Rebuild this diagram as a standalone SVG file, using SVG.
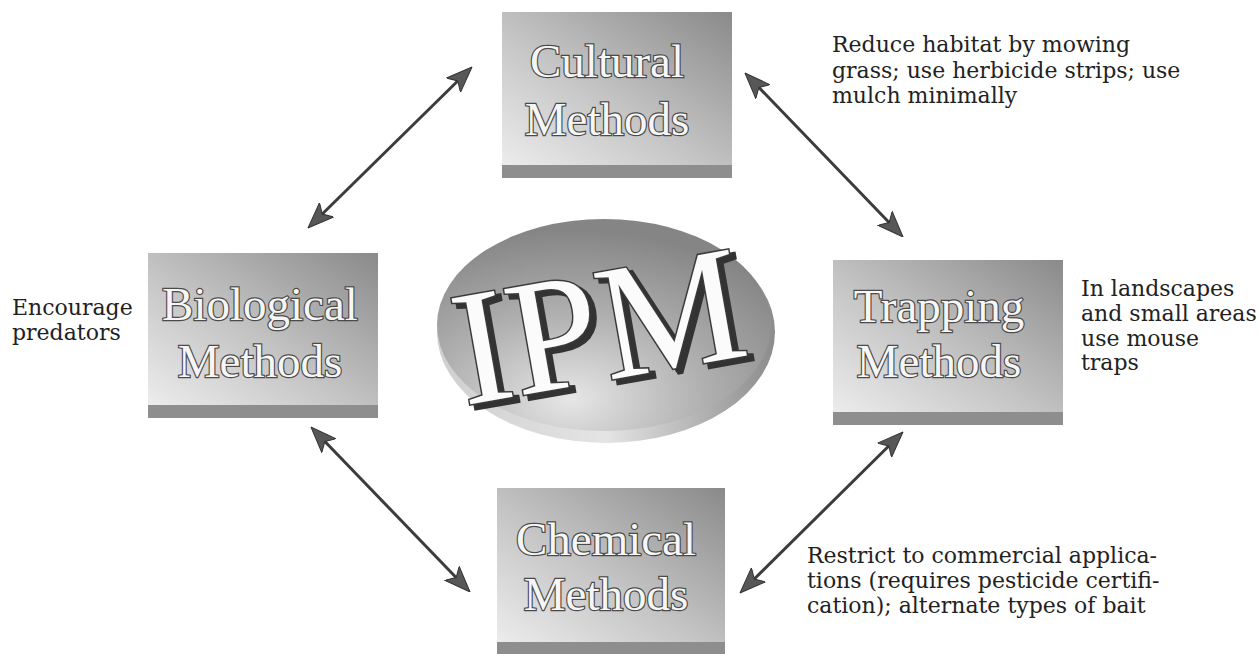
<svg xmlns="http://www.w3.org/2000/svg" width="1259" height="654" viewBox="0 0 1259 654">
<defs>
<style>
.note{font-family:"DejaVu Serif","Liberation Serif",serif;font-size:22px;fill:#222}
.lbl{font-family:"Liberation Serif","Times New Roman",serif;font-size:47px;fill:#f6f6f6;stroke:#4a4a4a;stroke-width:2.4px;paint-order:stroke fill;text-anchor:middle}
.face{fill:url(#boxg)}
.strip{fill:#8e8e8e}
.arr{stroke:#3c3c3c;stroke-width:3;fill:none;marker-start:url(#ah);marker-end:url(#ah)}
.ipm{font-family:"Liberation Serif","Times New Roman",serif;font-size:164px;text-anchor:middle}
</style>
<linearGradient id="boxg" x1="0" y1="1" x2="1" y2="0">
<stop offset="0" stop-color="#ececec"/>
<stop offset="0.45" stop-color="#c4c4c4"/>
<stop offset="1" stop-color="#8a8a8a"/>
</linearGradient>
<radialGradient id="ellg" cx="0.4" cy="0.85" r="0.8">
<stop offset="0" stop-color="#e6e6e6"/>
<stop offset="0.5" stop-color="#b0b0b0"/>
<stop offset="1" stop-color="#858585"/>
</radialGradient>
<linearGradient id="rimg" x1="0" y1="0" x2="1" y2="0">
<stop offset="0" stop-color="#cfcfcf"/>
<stop offset="0.5" stop-color="#e4e4e4"/>
<stop offset="1" stop-color="#8c8c8c"/>
</linearGradient>
<marker id="ah" viewBox="0 0 26 22" refX="17" refY="11" markerWidth="26" markerHeight="22" markerUnits="userSpaceOnUse" orient="auto-start-reverse">
<path d="M0,1 L26,11 L0,21 L6,11 Z" fill="#575757" stroke="#333" stroke-width="1"/>
</marker>
</defs>
<rect width="1259" height="654" fill="#ffffff"/>

<g id="connectors">
<line class="arr" x1="465.6" y1="73.3" x2="314.4" y2="221.7"/>
<line class="arr" x1="751.2" y1="79.5" x2="896.8" y2="230.5"/>
<line class="arr" x1="317.2" y1="433.5" x2="463.8" y2="585.5"/>
<line class="arr" x1="896.6" y1="438.3" x2="746.4" y2="586.7"/>
</g>

<g id="ipm">
<ellipse cx="606" cy="332" rx="169" ry="111" fill="url(#rimg)"/>
<ellipse cx="604" cy="325" rx="167" ry="106" fill="url(#ellg)"/>
<g transform="rotate(-10 608 380)">
<text class="ipm" x="613" y="385" fill="#333" stroke="#333" stroke-width="4">IPM</text>
<text class="ipm" x="608" y="380" fill="#fbfbfb" stroke="#3a3a3a" stroke-width="3" paint-order="stroke fill">IPM</text>
</g>
</g>

<g id="cultural">
<rect class="face" x="502" y="12" width="230" height="153"/>
<rect class="strip" x="502" y="165" width="230" height="13"/>
<text class="lbl" x="607" y="77">Cultural</text>
<text class="lbl" x="607" y="135">Methods</text>
</g>

<g id="biological">
<rect class="face" x="148" y="253" width="230" height="152"/>
<rect class="strip" x="148" y="405" width="230" height="13"/>
<text class="lbl" x="260" y="320">Biological</text>
<text class="lbl" x="260" y="377">Methods</text>
</g>

<g id="trapping">
<rect class="face" x="833" y="260" width="230" height="152"/>
<rect class="strip" x="833" y="412" width="230" height="13"/>
<text class="lbl" x="939" y="322">Trapping</text>
<text class="lbl" x="939" y="377">Methods</text>
</g>

<g id="chemical">
<rect class="face" x="497" y="488" width="228" height="154"/>
<rect class="strip" x="497" y="642" width="228" height="14"/>
<text class="lbl" x="606" y="555">Chemical</text>
<text class="lbl" x="606" y="610">Methods</text>
</g>

<g id="notes">
<text class="note" x="832" y="52">Reduce habitat by mowing</text>
<text class="note" x="832" y="77.5">grass; use herbicide strips; use</text>
<text class="note" x="832" y="103">mulch minimally</text>
<text class="note" x="1081" y="296">In landscapes</text>
<text class="note" x="1081" y="321">and small areas</text>
<text class="note" x="1081" y="346">use mouse</text>
<text class="note" x="1081" y="370">traps</text>
<text class="note" x="12" y="315">Encourage</text>
<text class="note" x="12" y="340">predators</text>
<text class="note" x="807" y="563">Restrict to commercial applica-</text>
<text class="note" x="807" y="588">tions (requires pesticide certifi-</text>
<text class="note" x="807" y="613">cation); alternate types of bait</text>
</g>
</svg>
